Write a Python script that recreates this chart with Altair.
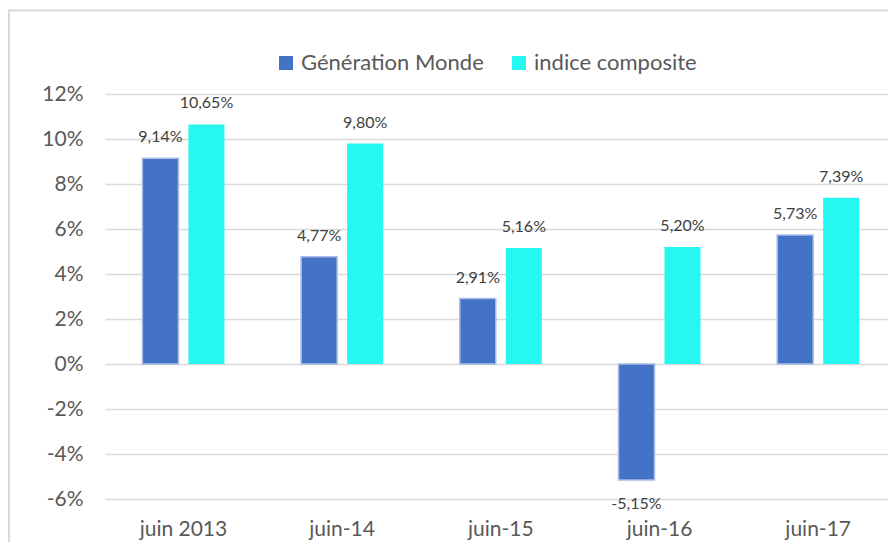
import altair as alt
import pandas as pd

categories = ["juin 2013", "juin-14", "juin-15", "juin-16", "juin-17"]
generation_monde = [9.14, 4.77, 2.91, -5.15, 5.73]
indice_composite = [10.65, 9.80, 5.16, 5.20, 7.39]
series_names = ["Génération Monde", "indice composite"]
series_colors = ["#4472C4", "#26F7F0"]
y_ticks = [-6, -4, -2, 0, 2, 4, 6, 8, 10, 12]

rows = []
for i, c in enumerate(categories):
    rows.append({"cat": c, "series": series_names[0], "value": generation_monde[i]})
    rows.append({"cat": c, "series": series_names[1], "value": indice_composite[i]})
df = pd.DataFrame(rows)

W, H = 783, 405
FONT = "Lato"
GRID = "#d9d9d9"

x = alt.X(
    "cat:N", sort=categories, title=None,
    scale=alt.Scale(paddingInner=0.483, paddingOuter=0.2086, align=0.565),
    axis=alt.Axis(labelFontSize=21, labelColor="#595959", labelFont=FONT, labelAngle=0,
                  ticks=False, domain=False, labelPadding=19, grid=False),
)
xoff = alt.XOffset("series:N", sort=series_names,
                   scale=alt.Scale(paddingInner=0.217, paddingOuter=0))
y = alt.Y(
    "value:Q", title=None,
    scale=alt.Scale(domain=[-6, 12], nice=False, zero=False),
    axis=alt.Axis(values=y_ticks, labelExpr="datum.value + '%'", grid=True,
                  gridColor=GRID, gridWidth=1.5, domain=False, ticks=False,
                  labelPadding=22, labelFontSize=21, labelColor="#595959", labelFont=FONT),
)
color = alt.Color(
    "series:N", sort=series_names,
    scale=alt.Scale(domain=series_names, range=series_colors),
    legend=alt.Legend(title=None, orient="none", legendX=170, legendY=-42,
                      direction="horizontal", padding=0, labelOffset=4, columnPadding=24,
                      symbolSize=196, symbolType="square", symbolStrokeWidth=0,
                      labelFontSize=22, labelColor="#595959", labelFont=FONT, labelLimit=0),
)

bars = alt.Chart(df).mark_bar(strokeWidth=1.5).encode(
    x=x, xOffset=xoff, y=y, y2=alt.Y2(datum=0), color=color,
    stroke=alt.condition(alt.datum.series == series_names[0],
                         alt.value("#a9bde8"), alt.value("transparent")),
)

label_base = alt.Chart(df).transform_calculate(
    label="(datum.value < 0 ? '-' : '') + replace(format(abs(datum.value), '.2f'), '.', ',') + '%'"
)
labels_pos = label_base.transform_filter("datum.value >= 0").mark_text(
    baseline="bottom", dy=-13, fontSize=16, font=FONT, color="#404040"
).encode(x=x, xOffset=xoff, y=alt.Y("value:Q"), text="label:N")
labels_neg = label_base.transform_filter("datum.value < 0").mark_text(
    baseline="top", dy=16, fontSize=16, font=FONT, color="#404040"
).encode(x=x, xOffset=xoff, y=alt.Y("value:Q"), text="label:N")

frame_df = pd.DataFrame({"a": [0]})
top_border = alt.Chart(frame_df).mark_rule(color=GRID, strokeWidth=2).encode(
    x=alt.value(-96), x2=alt.value(W + 20), y=alt.value(-83.5))
left_border = alt.Chart(frame_df).mark_rule(color=GRID, strokeWidth=2).encode(
    x=alt.value(-96), y=alt.value(-84.5), y2=alt.value(H + 80))

chart = alt.layer(top_border, left_border, bars, labels_pos, labels_neg).properties(
    width=W, height=H,
    padding={"left": 97, "top": 86, "right": 0, "bottom": 43},
    autosize=alt.AutoSizeParams(type="none"),
).configure_view(strokeWidth=0)

chart.save("out.html", embed_options={"renderer": "svg", "actions": False})
